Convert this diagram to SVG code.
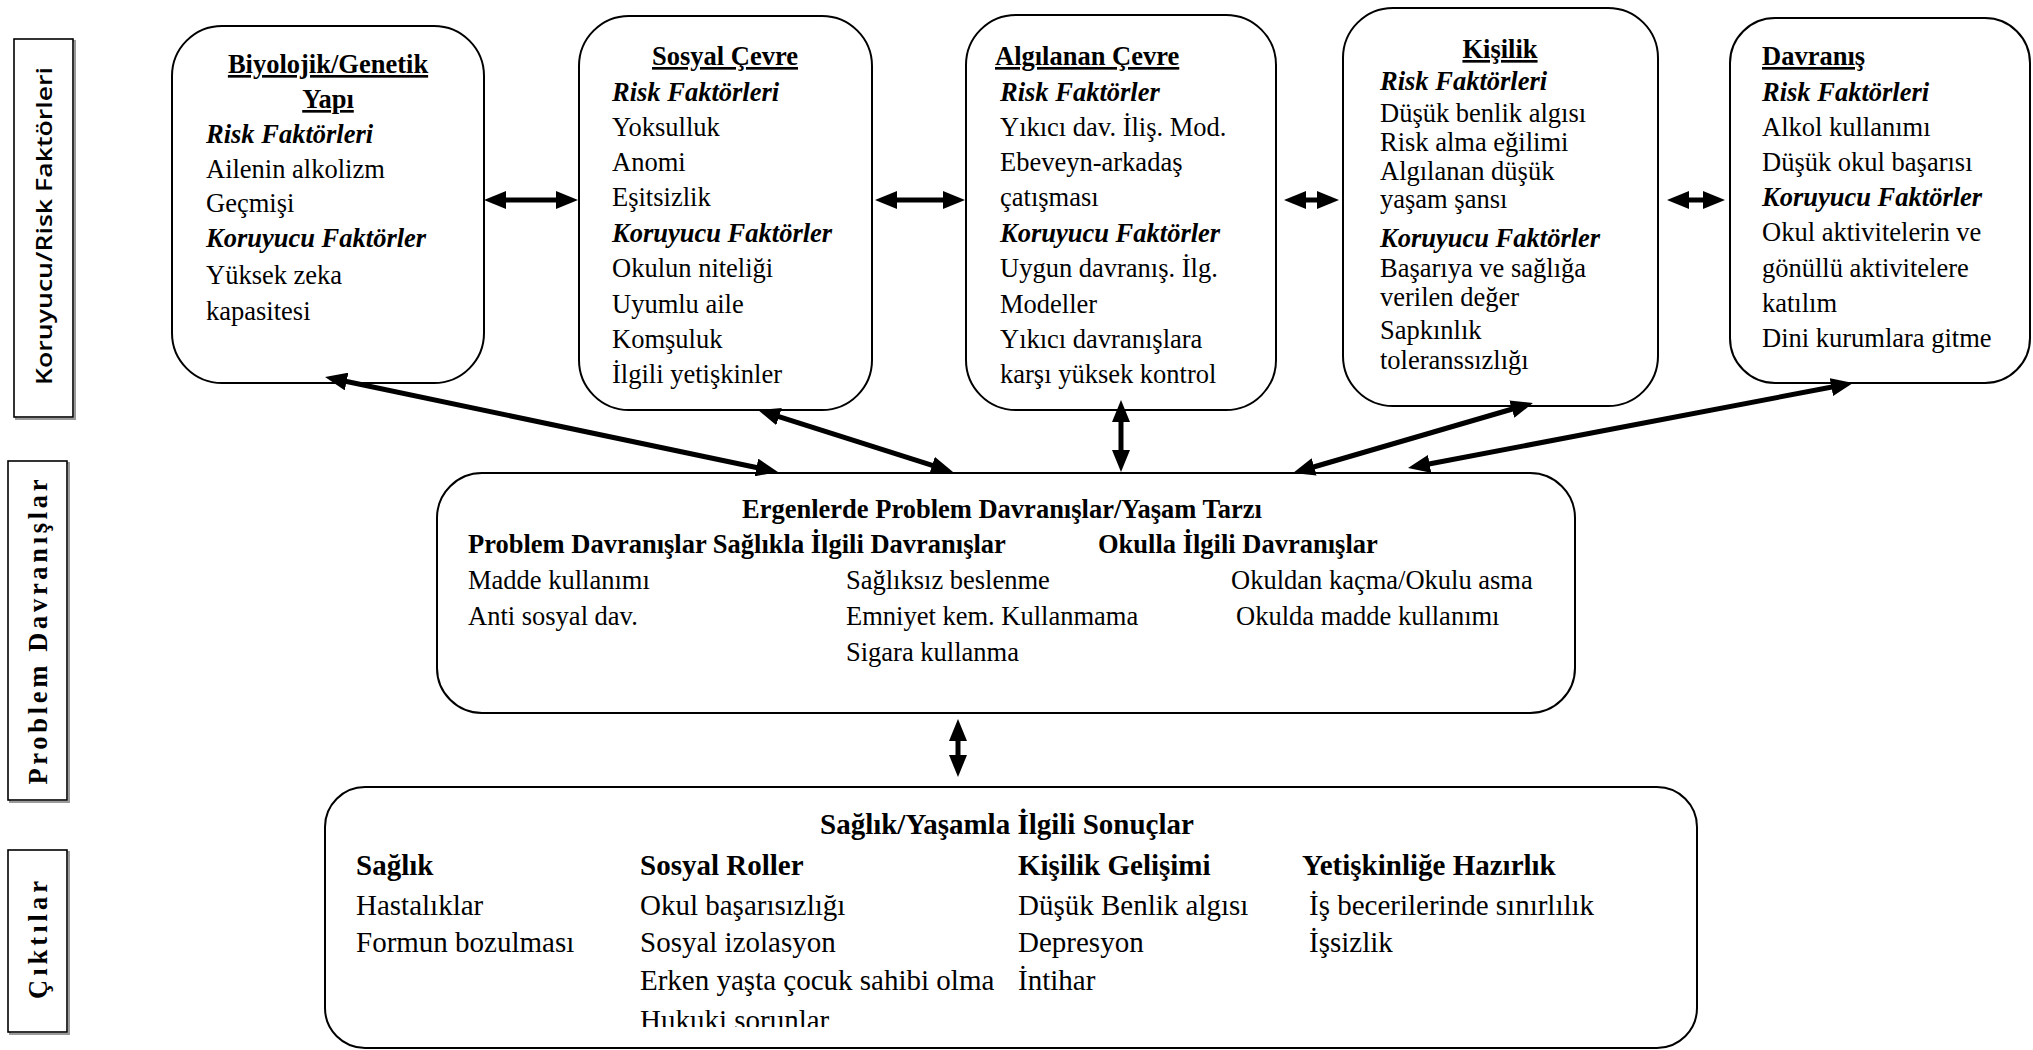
<svg xmlns="http://www.w3.org/2000/svg" width="2033" height="1050" viewBox="0 0 2033 1050">
<style>
  .box{fill:#fff;stroke:#000;stroke-width:2}
  .lbl{fill:#fff;stroke:#000;stroke-width:1.6}
  .lsh{fill:none;stroke:#9a9a9a;stroke-width:2}
  text{font-family:"Liberation Serif","Times New Roman",serif;font-size:26.5px;fill:#000}
  .b{font-weight:bold}
  .bi{font-weight:bold;font-style:italic}
  .u{text-decoration:underline}
  .m{text-anchor:middle}
  .lg{font-size:29px}
  .sans{font-family:"Open Sans","Liberation Sans",sans-serif;font-weight:600;font-size:22px}
  .arr{stroke:#000;stroke-width:5;fill:none;marker-start:url(#ah);marker-end:url(#ah)}
</style>
<defs>
  <marker id="ah" markerUnits="userSpaceOnUse" markerWidth="22" markerHeight="18" refX="6" refY="9" orient="auto-start-reverse" viewBox="0 0 22 18">
    <path d="M0,0 L22,9 L0,18 z" fill="#000"/>
  </marker>
  <clipPath id="clipBottom">
    <rect x="0" y="0" width="2033" height="1027"/>
  </clipPath>
</defs>
<rect width="2033" height="1050" fill="#fff"/>

<g id="label-koruyucu-risk">
  <rect class="lsh" x="16" y="41" width="59" height="378"/>
  <rect class="lbl" x="14" y="39" width="59" height="378"/>
  <text class="sans m" transform="translate(52,226) rotate(-90)" textLength="318" lengthAdjust="spacingAndGlyphs">Koruyucu/Risk Faktörleri</text>
</g>
<g id="label-problem">
  <rect class="lsh" x="10" y="463" width="59" height="339"/>
  <rect class="lbl" x="8" y="461" width="59" height="339"/>
  <text class="b m" transform="translate(47,632) rotate(-90)" textLength="305" lengthAdjust="spacing">Problem Davranışlar</text>
</g>
<g id="label-ciktilar">
  <rect class="lsh" x="10" y="852" width="59" height="182"/>
  <rect class="lbl" x="8" y="850" width="59" height="182"/>
  <text class="b m" transform="translate(47,940) rotate(-90)" textLength="118" lengthAdjust="spacing">Çıktılar</text>
</g>

<g id="node-biyolojik">
  <rect class="box" x="172" y="26" width="312" height="357" rx="50"/>
  <text class="b u m" x="328" y="73">Biyolojik/Genetik</text>
  <text class="b u m" x="328" y="108">Yapı</text>
  <text class="bi" x="206" y="143">Risk Faktörleri</text>
  <text x="206" y="178">Ailenin alkolizm</text>
  <text x="206" y="212">Geçmişi</text>
  <text class="bi" x="206" y="247">Koruyucu Faktörler</text>
  <text x="206" y="284">Yüksek zeka</text>
  <text x="206" y="320">kapasitesi</text>
</g>

<g id="node-sosyal-cevre">
  <rect class="box" x="579" y="16" width="293" height="394" rx="50"/>
  <text class="b u m" x="725" y="65">Sosyal Çevre</text>
  <text class="bi" x="612" y="101">Risk Faktörleri</text>
  <text x="612" y="136">Yoksulluk</text>
  <text x="612" y="171">Anomi</text>
  <text x="612" y="206">Eşitsizlik</text>
  <text class="bi" x="612" y="242">Koruyucu Faktörler</text>
  <text x="612" y="277">Okulun niteliği</text>
  <text x="612" y="313">Uyumlu aile</text>
  <text x="612" y="348">Komşuluk</text>
  <text x="612" y="383">İlgili yetişkinler</text>
</g>

<g id="node-algilanan-cevre">
  <rect class="box" x="966" y="15" width="310" height="395" rx="50"/>
  <text class="b u" x="995" y="65">Algılanan Çevre</text>
  <text class="bi" x="1000" y="101">Risk Faktörler</text>
  <text x="1000" y="136">Yıkıcı dav. İliş. Mod.</text>
  <text x="1000" y="171">Ebeveyn-arkadaş</text>
  <text x="1000" y="206">çatışması</text>
  <text class="bi" x="1000" y="242">Koruyucu Faktörler</text>
  <text x="1000" y="277">Uygun davranış. İlg.</text>
  <text x="1000" y="313">Modeller</text>
  <text x="1000" y="348">Yıkıcı davranışlara</text>
  <text x="1000" y="383">karşı yüksek kontrol</text>
</g>

<g id="node-kisilik">
  <rect class="box" x="1343" y="8" width="315" height="398" rx="50"/>
  <text class="b u m" x="1500" y="58">Kişilik</text>
  <text class="bi" x="1380" y="90">Risk Faktörleri</text>
  <text x="1380" y="122">Düşük benlik algısı</text>
  <text x="1380" y="151">Risk alma eğilimi</text>
  <text x="1380" y="180">Algılanan düşük</text>
  <text x="1380" y="208">yaşam şansı</text>
  <text class="bi" x="1380" y="247">Koruyucu Faktörler</text>
  <text x="1380" y="277">Başarıya ve sağlığa</text>
  <text x="1380" y="306">verilen değer</text>
  <text x="1380" y="339">Sapkınlık</text>
  <text x="1380" y="369">toleranssızlığı</text>
</g>

<g id="node-davranis">
  <rect class="box" x="1730" y="18" width="300" height="365" rx="45"/>
  <text class="b u" x="1762" y="65">Davranış</text>
  <text class="bi" x="1762" y="101">Risk Faktörleri</text>
  <text x="1762" y="136">Alkol kullanımı</text>
  <text x="1762" y="171">Düşük okul başarısı</text>
  <text class="bi" x="1762" y="206">Koruyucu Faktörler</text>
  <text x="1762" y="241">Okul aktivitelerin ve</text>
  <text x="1762" y="277">gönüllü aktivitelere</text>
  <text x="1762" y="312">katılım</text>
  <text x="1762" y="347">Dini kurumlara gitme</text>
</g>

<g id="node-problem-davranislar">
  <rect class="box" x="437" y="473" width="1138" height="240" rx="45"/>
  <text class="b" x="742" y="518">Ergenlerde Problem Davranışlar/Yaşam Tarzı</text>
  <text class="b" x="468" y="553">Problem Davranışlar Sağlıkla İlgili Davranışlar</text>
  <text class="b" x="1098" y="553">Okulla İlgili Davranışlar</text>
  <text x="468" y="589">Madde kullanımı</text>
  <text x="468" y="625">Anti sosyal dav.</text>
  <text x="846" y="589">Sağlıksız beslenme</text>
  <text x="846" y="625">Emniyet kem. Kullanmama</text>
  <text x="846" y="661">Sigara kullanma</text>
  <text x="1231" y="589">Okuldan kaçma/Okulu asma</text>
  <text x="1236" y="625">Okulda madde kullanımı</text>
</g>

<g id="node-sonuclar">
  <rect class="box" x="325" y="787" width="1372" height="261" rx="40"/>
  <text class="b lg" x="820" y="834">Sağlık/Yaşamla İlgili Sonuçlar</text>
  <text class="b lg" x="356" y="875">Sağlık</text>
  <text class="b lg" x="640" y="875">Sosyal Roller</text>
  <text class="b lg" x="1018" y="875">Kişilik Gelişimi</text>
  <text class="b lg" x="1302" y="875">Yetişkinliğe Hazırlık</text>
  <text class="lg" x="356" y="915">Hastalıklar</text>
  <text class="lg" x="356" y="952">Formun bozulması</text>
  <text class="lg" x="640" y="915">Okul başarısızlığı</text>
  <text class="lg" x="640" y="952">Sosyal izolasyon</text>
  <text class="lg" x="640" y="990">Erken yaşta çocuk sahibi olma</text>
  <text class="lg" x="640" y="1030" clip-path="url(#clipBottom)">Hukuki sorunlar</text>
  <text class="lg" x="1018" y="915">Düşük Benlik algısı</text>
  <text class="lg" x="1018" y="952">Depresyon</text>
  <text class="lg" x="1018" y="990">İntihar</text>
  <text class="lg" x="1309" y="915">İş becerilerinde sınırlılık</text>
  <text class="lg" x="1309" y="952">İşsizlik</text>
</g>

<g id="connectors">
  <line class="arr" x1="500" y1="200" x2="562" y2="200"/>
  <line class="arr" x1="891" y1="200" x2="949" y2="200"/>
  <line class="arr" x1="1300" y1="200" x2="1323" y2="200"/>
  <line class="arr" x1="1683" y1="200" x2="1709" y2="200"/>
  <line class="arr" x1="340.7" y1="380.3" x2="762.3" y2="468.7"/>
  <line class="arr" x1="773.3" y1="414.8" x2="937.8" y2="467.2"/>
  <line class="arr" x1="1121" y1="416" x2="1121" y2="456"/>
  <line class="arr" x1="1308.4" y1="468.5" x2="1517.6" y2="407.5"/>
  <line class="arr" x1="1423.7" y1="465" x2="1837.3" y2="386"/>
  <line class="arr" x1="958" y1="735" x2="958" y2="761"/>
</g>
</svg>
